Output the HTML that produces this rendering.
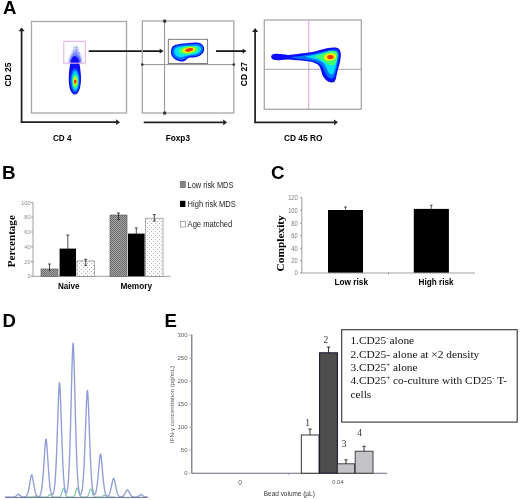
<!DOCTYPE html>
<html><head><meta charset="utf-8"><style>
html,body{margin:0;padding:0;background:#fff;width:520px;height:500px;overflow:hidden}
svg{display:block;will-change:transform}
text{font-family:"Liberation Sans",sans-serif}
.b{font-weight:bold}
.sf,.sf text,text.sf{font-family:"Liberation Serif",serif}
</style></head><body>
<svg width="520" height="500" viewBox="0 0 520 500">
<defs>
<marker id="ah" viewBox="0 0 8 10" refX="7" refY="5" markerWidth="2.8" markerHeight="3.6" orient="auto-start-reverse" preserveAspectRatio="none"><path d="M0,0 L8,5 L0,10 z" fill="#111"/></marker>
<linearGradient id="spk" x1="0" y1="0" x2="0" y2="1"><stop offset="0" stop-color="#e4e6ff"/><stop offset="0.35" stop-color="#a8b2ff"/><stop offset="0.7" stop-color="#5060ff"/><stop offset="1" stop-color="#1a22f0"/></linearGradient>
<filter id="bl2" x="-30%" y="-30%" width="160%" height="160%"><feGaussianBlur stdDeviation="0.9"/></filter>
<filter id="bl" x="-20%" y="-20%" width="140%" height="140%"><feGaussianBlur stdDeviation="0.55"/></filter>
<pattern id="hatch" width="2" height="2" patternUnits="userSpaceOnUse"><rect width="2" height="2" fill="#aaa"/><rect width="1" height="1" fill="#686868"/><rect x="1" y="1" width="1" height="1" fill="#686868"/></pattern>
<pattern id="dots" width="4" height="4" patternUnits="userSpaceOnUse"><rect width="4" height="4" fill="#fff"/><rect x="1" y="1" width="1" height="1" fill="#b4b4b4"/><rect x="3" y="3" width="1" height="1" fill="#b4b4b4"/></pattern>
</defs>

<!-- ============ Panel A ============ -->
<text x="3.1" y="14.2" class="b" font-size="18.6">A</text>
<!-- plot 1 -->
<rect x="31.5" y="21.5" width="95" height="91.5" fill="none" stroke="#a8a8a8" stroke-width="1.3"/>
<line x1="21.6" y1="123.0" x2="21.6" y2="31.0" stroke="#222" stroke-width="1.75"/><path d="M21.6,27.4 L18.60,31.30 L24.60,31.30 Z" fill="#222"/>
<line x1="20.75" y1="122.2" x2="116.4" y2="122.2" stroke="#222" stroke-width="1.75"/><path d="M120.0,122.2 L116.10,119.30 L116.10,125.10 Z" fill="#222"/>
<text transform="translate(11,74.5) rotate(-90)" text-anchor="middle" class="b" font-size="8.5">CD 25</text>
<text x="53" y="141" class="b" font-size="8.5" textLength="18.5" lengthAdjust="spacingAndGlyphs">CD 4</text>
<g filter="url(#bl2)"><path d="M76,45.5 C77.5,46 78.5,50 79.5,54 C80.5,57 81.5,60 81,63 L69.5,63 C69.2,60 70.5,57 71.8,54 C73,50 74.5,46 76,45.5 Z" fill="url(#spk)"/></g>
<g opacity="0.6"><circle cx="78.1" cy="58.3" r="0.55" fill="#3a4cff"/><circle cx="77.6" cy="49.6" r="0.55" fill="#3a4cff"/><circle cx="78.7" cy="57.7" r="0.55" fill="#3a4cff"/><circle cx="77.1" cy="61.3" r="0.55" fill="#2030e8"/><circle cx="78.6" cy="61.5" r="0.55" fill="#9aa6ff"/><circle cx="77.5" cy="60.9" r="0.55" fill="#5a6cff"/><circle cx="75.2" cy="53.2" r="0.55" fill="#9aa6ff"/><circle cx="75.3" cy="57.2" r="0.55" fill="#5a6cff"/><circle cx="77.4" cy="61.7" r="0.55" fill="#5a6cff"/><circle cx="74.4" cy="54.8" r="0.55" fill="#9aa6ff"/><circle cx="76.5" cy="58.5" r="0.55" fill="#9aa6ff"/><circle cx="74.6" cy="54.3" r="0.55" fill="#5a6cff"/><circle cx="74.9" cy="57.6" r="0.55" fill="#3a4cff"/><circle cx="75.6" cy="53.4" r="0.55" fill="#2030e8"/><circle cx="74.3" cy="52.3" r="0.55" fill="#9aa6ff"/><circle cx="76.3" cy="47.6" r="0.55" fill="#7080ff"/><circle cx="77.0" cy="58.7" r="0.55" fill="#5a6cff"/><circle cx="71.2" cy="61.4" r="0.55" fill="#7080ff"/><circle cx="78.4" cy="55.1" r="0.55" fill="#7080ff"/><circle cx="73.5" cy="53.6" r="0.55" fill="#3a4cff"/><circle cx="71.3" cy="61.0" r="0.55" fill="#5a6cff"/><circle cx="76.8" cy="47.4" r="0.55" fill="#2030e8"/><circle cx="73.2" cy="61.8" r="0.55" fill="#9aa6ff"/><circle cx="73.5" cy="50.2" r="0.55" fill="#7080ff"/><circle cx="74.0" cy="58.1" r="0.55" fill="#2030e8"/><circle cx="78.8" cy="61.5" r="0.55" fill="#3a4cff"/><circle cx="74.1" cy="47.1" r="0.55" fill="#3a4cff"/><circle cx="76.2" cy="51.4" r="0.55" fill="#7080ff"/><circle cx="79.4" cy="52.9" r="0.55" fill="#7080ff"/><circle cx="75.7" cy="51.6" r="0.55" fill="#7080ff"/><circle cx="73.9" cy="61.9" r="0.55" fill="#3a4cff"/><circle cx="76.1" cy="55.6" r="0.55" fill="#5a6cff"/><circle cx="76.6" cy="50.6" r="0.55" fill="#2030e8"/><circle cx="76.5" cy="47.7" r="0.55" fill="#2030e8"/><circle cx="72.1" cy="61.4" r="0.55" fill="#5a6cff"/><circle cx="76.4" cy="49.7" r="0.55" fill="#9aa6ff"/><circle cx="73.5" cy="59.0" r="0.55" fill="#2030e8"/><circle cx="76.3" cy="46.9" r="0.55" fill="#5a6cff"/><circle cx="78.5" cy="61.4" r="0.55" fill="#3a4cff"/><circle cx="78.6" cy="55.8" r="0.55" fill="#9aa6ff"/><circle cx="75.5" cy="60.2" r="0.55" fill="#9aa6ff"/><circle cx="77.2" cy="57.6" r="0.55" fill="#9aa6ff"/><circle cx="79.6" cy="58.4" r="0.55" fill="#9aa6ff"/><circle cx="78.5" cy="52.8" r="0.55" fill="#3a4cff"/><circle cx="79.9" cy="56.2" r="0.55" fill="#9aa6ff"/></g>
<g filter="url(#bl)">

<path d="M74.8,56 C78.5,56 80.2,65 80.9,75 C81.6,86 79,94.5 75,94.5 C71,94.5 68.4,88 68.8,77 C69.2,66 71,56 74.8,56 Z" fill="#1010f0"/>
<ellipse cx="75" cy="80.5" rx="4.8" ry="12.5" fill="#0a50ff"/>
<ellipse cx="75.2" cy="80.8" rx="3.7" ry="10.2" fill="#00c8ff"/>
<ellipse cx="75.3" cy="81.2" rx="2.7" ry="6.8" fill="#50ff60"/>
<ellipse cx="75.3" cy="81.5" rx="1.9" ry="4" fill="#f0f000"/>
<ellipse cx="75.3" cy="81.6" rx="1.2" ry="2.2" fill="#f03000"/>
</g>

<rect x="63.8" y="41.3" width="21.5" height="21.9" fill="none" stroke="#e4b4e4" stroke-width="1.1"/>
<line x1="88.7" y1="51.1" x2="160.0" y2="51.1" stroke="#1a1a1a" stroke-width="1.8"/><path d="M163.5,51.1 L159.70,48.70 L159.70,53.50 Z" fill="#1a1a1a"/>

<!-- plot 2 -->
<rect x="142.3" y="21" width="91.5" height="92" fill="none" stroke="#a8a8a8" stroke-width="1.3"/>
<line x1="164.6" y1="21" x2="164.6" y2="113" stroke="#909090" stroke-width="1"/>
<line x1="142.3" y1="64.6" x2="233.8" y2="64.6" stroke="#909090" stroke-width="1"/>
<rect x="163.2" y="19.6" width="3" height="3" fill="#333"/>
<rect x="163.2" y="111.6" width="3" height="3" fill="#333"/>
<circle cx="142.3" cy="64.6" r="1.3" fill="#333"/>
<circle cx="233.8" cy="64.6" r="1.3" fill="#333"/>
<line x1="143.7" y1="122.4" x2="223.5" y2="122.4" stroke="#222" stroke-width="1.75"/><path d="M227.1,122.4 L223.20,119.50 L223.20,125.30 Z" fill="#222"/>
<text x="165.7" y="141.2" class="b" font-size="8.5" textLength="24.3" lengthAdjust="spacingAndGlyphs">Foxp3</text>
<g filter="url(#bl)">
<path d="M171,50.7 C171.5,47 173,45.5 176,44.8 C180,43.8 186,43.2 195.3,42.5 C199,42.3 201.5,43.5 203,45.5 C204.8,48 204.6,51 202.5,53.5 C200,56 196,57.8 192,57.6 C189.5,57.4 188,57.8 186.5,59.5 C185,61.2 183,61.8 181,61.5 C177,60.8 174,59 172.3,56.5 C171.2,54.8 170.8,52.7 171,50.7 Z" fill="#0808f8"/>
<path transform="translate(188,51) scale(1.07,1.1) translate(-188,-51)" d="M173.2,51 C173.5,48 175.5,46.6 178,46 C182,45.2 187,44.8 195,44.4 C198.5,44.3 200.5,45.3 201.6,47 C202.6,49 202,51.5 200,53.2 C198,55 195,56 191.5,55.8 C189,55.7 187.5,56.2 186,57.6 C184.5,58.8 182.5,59.4 180.8,59.1 C177.5,58.4 175,57 174,55 C173.3,53.8 173.1,52.4 173.2,51 Z" fill="#0070ff"/>
<path transform="translate(188,51) scale(1.06,1.08) translate(-188,-51)" d="M175,51 C175.5,48.5 177,47.5 180,47 C184,46.3 189,46 195,45.8 C198,45.8 199.8,46.8 200.2,48.5 C200.5,50.5 199.2,52.5 196.5,53.6 C193.5,54.8 189,54.5 186,55.6 C183.5,56.6 181,57 179,56.4 C176.5,55.6 175,53.8 175,51 Z" fill="#00e0f8"/>
<ellipse cx="188.5" cy="50.2" rx="10" ry="4.2" fill="#40ff70" transform="rotate(-6 188.5 50.2)"/>
<ellipse cx="188.8" cy="50" rx="6.8" ry="2.9" fill="#f0f000" transform="rotate(-8 188.8 50)"/>
<ellipse cx="189.2" cy="49.8" rx="4" ry="1.7" fill="#f03000" transform="rotate(-10 189.2 49.8)"/>
</g>
<rect x="168.3" y="39.3" width="39.3" height="24.2" fill="none" stroke="#707070" stroke-width="0.9"/>
<line x1="216" y1="51.1" x2="243.0" y2="51.1" stroke="#1a1a1a" stroke-width="1.8"/><path d="M246.5,51.1 L242.70,48.70 L242.70,53.50 Z" fill="#1a1a1a"/>

<!-- plot 3 -->
<rect x="264.3" y="20" width="97" height="89.3" fill="none" stroke="#a8a8a8" stroke-width="1.3"/>
<line x1="308.8" y1="20" x2="308.8" y2="109.3" stroke="#d8a0d8" stroke-width="1"/>
<line x1="264.3" y1="69.3" x2="361.3" y2="69.3" stroke="#b0a0b0" stroke-width="1"/>
<line x1="255.1" y1="123.1" x2="255.1" y2="31.6" stroke="#222" stroke-width="1.75"/><path d="M255.1,28.0 L252.10,31.90 L258.10,31.90 Z" fill="#222"/>
<line x1="254.25" y1="122.3" x2="334.4" y2="122.3" stroke="#222" stroke-width="1.75"/><path d="M338.0,122.3 L334.10,119.40 L334.10,125.20 Z" fill="#222"/>
<text transform="translate(246.6,74.1) rotate(-90)" text-anchor="middle" class="b" font-size="8.5">CD 27</text>
<text x="284" y="141" class="b" font-size="8.5" textLength="38.5" lengthAdjust="spacingAndGlyphs">CD 45 RO</text>
<g filter="url(#bl)">
<path d="M271.2,57 C271,54.5 274,53.6 277,53.8 C281,54 284,54.6 288,55 C295,54.2 303,53 311,52.2 C318,51 323,49.2 327,48.3 C331,47.6 335,47.3 337.5,48 C340,49 341,52 340.8,56 C340.5,62 338.5,67 337.5,71 C336.7,75 336,79.5 334.5,81.8 C333,83 330.5,82.8 328,81.5 C324.5,79.5 322.5,76 321.5,72 C320.5,68.5 320,66 317,64 C314,62.3 311,61.6 306,61 C300,60.4 295,60.4 290,59.6 C287,59.2 284,60 279,60.2 C274,60.4 271.4,59.4 271.2,57 Z" fill="#0808f8"/>
<path d="M290,57.3 C298,56.3 306,55 313,54 C319,52.8 324,51 329,50 C333,49.4 336.5,49.3 338,50.5 C339.3,52 339,56 338.3,60 C337.5,65 336.5,69 335.5,73 C334.7,76.5 333.5,78.8 331.5,78.8 C329,78.6 326.5,76 325,72.5 C323.5,68.5 322,65 318,62.8 C314,61 308,59.8 300,59 C296,58.6 292,58.2 290,57.3 Z" fill="#0070ff"/>
<path d="M305,56.5 C312,55.5 318,54.2 324,52.5 C329,51.3 333.5,50.8 336,51.8 C337.6,52.8 337.6,56 337,60 C336.3,64.5 335.3,68.5 334,72 C333,74.5 331.3,75.2 329.8,74 C328,72.4 327,69 325.5,66 C323.8,62.8 321,61 317,59.6 C313,58.6 309,57.6 305,56.5 Z" fill="#00e0f8"/>
<path d="M314,56.2 C319,55.2 324,52.6 329.5,51.2 C333.5,50.5 336.6,51 337.5,53.2 C338.3,56 337.2,60.5 335.2,63.5 C333.2,66 330,65.8 327.2,63.8 C323.5,61.2 319.5,58.6 314,56.2 Z" fill="#40ff70"/>
<ellipse cx="330" cy="56.9" rx="6.2" ry="3.8" fill="#f0f000" transform="rotate(-8 330 56.9)"/>
<ellipse cx="330.4" cy="56.9" rx="3.2" ry="2" fill="#f03000"/>
</g>

<!-- ============ Panel B ============ -->
<text x="2.0" y="178.6" class="b" font-size="18.8">B</text>
<g stroke="#888" stroke-width="0.8">
<line x1="33" y1="202.6" x2="33" y2="276.3"/>
<line x1="33" y1="276.3" x2="170.6" y2="276.3"/>
<line x1="31" y1="202.6" x2="33" y2="202.6"/><line x1="31" y1="217.3" x2="33" y2="217.3"/><line x1="31" y1="232" x2="33" y2="232"/><line x1="31" y1="246.8" x2="33" y2="246.8"/><line x1="31" y1="261.5" x2="33" y2="261.5"/><line x1="31" y1="276.3" x2="33" y2="276.3"/>
</g>
<g font-size="5.6" fill="#8c8c8c" text-anchor="end">
<text x="30.6" y="204.6">100</text><text x="30.6" y="219.3">80</text><text x="30.6" y="234">60</text><text x="30.6" y="248.8">40</text><text x="30.6" y="263.5">20</text><text x="30.6" y="278.3">0</text>
</g>
<text transform="translate(14.6,241.2) rotate(-90)" text-anchor="middle" class="sf b" font-size="10.3" textLength="52" lengthAdjust="spacingAndGlyphs">Percentage</text>
<!-- bars -->
<rect x="41" y="269" width="17" height="7.3" fill="url(#hatch)" stroke="#555" stroke-width="0.6"/>
<rect x="59.6" y="248.6" width="16.4" height="27.7" fill="#000"/>
<rect x="77" y="261" width="17.4" height="15.3" fill="url(#dots)" stroke="#777" stroke-width="0.6"/>
<rect x="110" y="215" width="17" height="61.3" fill="url(#hatch)" stroke="#555" stroke-width="0.6"/>
<rect x="128" y="233.6" width="16.6" height="42.7" fill="#000"/>
<rect x="145.6" y="218.2" width="17.4" height="58.1" fill="url(#dots)" stroke="#777" stroke-width="0.6"/>
<g stroke="#222" stroke-width="0.8">
<line x1="49.5" y1="264" x2="49.5" y2="271.5"/><line x1="48" y1="264" x2="51" y2="264"/>
<line x1="67.8" y1="235" x2="67.8" y2="249"/><line x1="66.3" y1="235" x2="69.3" y2="235"/>
<line x1="85.7" y1="259.4" x2="85.7" y2="265.4"/><line x1="84.2" y1="259.4" x2="87.2" y2="259.4"/><line x1="84.2" y1="265.4" x2="87.2" y2="265.4"/>
<line x1="118.5" y1="213" x2="118.5" y2="219.6"/><line x1="117" y1="213" x2="120" y2="213"/><line x1="117" y1="219.6" x2="120" y2="219.6"/>
<line x1="136.3" y1="228" x2="136.3" y2="234"/><line x1="134.8" y1="228" x2="137.8" y2="228"/>
<line x1="154.3" y1="214.6" x2="154.3" y2="221"/><line x1="152.8" y1="214.6" x2="155.8" y2="214.6"/><line x1="152.8" y1="221" x2="155.8" y2="221"/>
</g>
<text x="58" y="289" class="b" font-size="9" textLength="21.6" lengthAdjust="spacingAndGlyphs">Naive</text>
<text x="120.4" y="289" class="b" font-size="9" textLength="31.6" lengthAdjust="spacingAndGlyphs">Memory</text>
<!-- legend -->
<rect x="180.2" y="181.3" width="5.2" height="6.3" fill="#858585" stroke="#666" stroke-width="0.6"/>
<rect x="180" y="200.8" width="5.4" height="6.2" fill="#000"/>
<rect x="180.3" y="221.5" width="5" height="5.5" fill="#fff" stroke="#777" stroke-width="0.6"/>
<g font-size="9.6" fill="#222">
<text x="187.6" y="187.8" textLength="45.8" lengthAdjust="spacingAndGlyphs">Low risk MDS</text>
<text x="187.6" y="207.3" textLength="48.2" lengthAdjust="spacingAndGlyphs">High risk MDS</text>
<text x="187.6" y="227.2" textLength="44.7" lengthAdjust="spacingAndGlyphs">Age matched</text>
</g>

<!-- ============ Panel C ============ -->
<text x="271.0" y="178.6" class="b" font-size="18.8">C</text>
<g stroke="#888" stroke-width="0.8">
<line x1="301.8" y1="197.8" x2="301.8" y2="273"/>
<line x1="301.8" y1="273" x2="475" y2="273"/>
<line x1="300.2" y1="197.8" x2="302" y2="197.8"/><line x1="300.2" y1="210.1" x2="302" y2="210.1"/><line x1="300.2" y1="223.3" x2="302" y2="223.3"/><line x1="300.2" y1="235.7" x2="302" y2="235.7"/><line x1="300.2" y1="248.3" x2="302" y2="248.3"/><line x1="300.2" y1="260.7" x2="302" y2="260.7"/><line x1="300.2" y1="273.0" x2="302" y2="273.0"/>
<line x1="388.5" y1="272.6" x2="388.5" y2="274.6"/>
</g>
<g font-size="6.9" fill="#7a7a7a" text-anchor="end" transform="translate(297.8,0) scale(0.84,1)">
<text x="0" y="200.3">120</text><text x="0" y="212.6">100</text><text x="0" y="225.8">80</text><text x="0" y="238.2">60</text><text x="0" y="250.8">40</text><text x="0" y="263.2">20</text><text x="0" y="275.5">0</text>
</g>
<text transform="translate(283.6,243.3) rotate(-90)" text-anchor="middle" class="sf b" font-size="11.1" textLength="56.2" lengthAdjust="spacingAndGlyphs">Complexity</text>
<rect x="328" y="210" width="35" height="62.6" fill="#000"/>
<rect x="413.8" y="208.9" width="35.1" height="63.7" fill="#000"/>
<g stroke="#333" stroke-width="0.8">
<line x1="345.5" y1="207" x2="345.5" y2="210"/><line x1="344" y1="207" x2="347" y2="207"/>
<line x1="431.3" y1="205.2" x2="431.3" y2="209"/><line x1="430" y1="205.2" x2="432.6" y2="205.2"/>
</g>
<text x="334.4" y="285" class="b" font-size="9" textLength="33.6" lengthAdjust="spacingAndGlyphs">Low risk</text>
<text x="418.5" y="285" class="b" font-size="9" textLength="35" lengthAdjust="spacingAndGlyphs">High risk</text>

<!-- ============ Panel D ============ -->
<text x="2.4" y="326.9" class="b" font-size="18.6">D</text>
<path d="M25.00,497.20 L25.30,497.20 L25.60,497.20 L25.90,497.20 L26.20,497.20 L26.50,497.20 L26.80,497.20 L27.10,497.20 L27.40,497.20 L27.70,497.20 L28.00,497.20 L28.30,497.20 L28.60,497.20 L28.90,497.20 L29.20,497.20 L29.50,497.20 L29.80,497.20 L30.10,497.20 L30.40,497.20 L30.70,497.20 L31.00,497.20 L31.30,497.20 L31.60,497.20 L31.90,497.19 L32.20,497.18 L32.50,497.17 L32.80,497.14 L33.10,497.10 L33.40,497.04 L33.70,496.95 L34.00,496.83 L34.30,496.69 L34.60,496.53 L34.90,496.36 L35.20,496.21 L35.50,496.09 L35.80,496.01 L36.10,496.00 L36.40,496.06 L36.70,496.16 L37.00,496.31 L37.30,496.47 L37.60,496.64 L37.90,496.79 L38.20,496.91 L38.50,497.01 L38.80,497.08 L39.10,497.13 L39.40,497.16 L39.70,497.18 L40.00,497.19 L40.30,497.19 L40.60,497.20 L40.90,497.20 L41.20,497.20 L41.50,497.20 L41.80,497.20 L42.10,497.20 L42.40,497.20 L42.70,497.20 L43.00,497.20 L43.30,497.20 L43.60,497.20 L43.90,497.20 L44.20,497.20 L44.50,497.20 L44.80,497.20 L45.10,497.19 L45.40,497.19 L45.70,497.18 L46.00,497.15 L46.30,497.12 L46.60,497.06 L46.90,496.97 L47.20,496.83 L47.50,496.65 L47.80,496.41 L48.10,496.12 L48.40,495.79 L48.70,495.45 L49.00,495.11 L49.30,494.82 L49.60,494.61 L49.90,494.51 L50.20,494.53 L50.50,494.67 L50.80,494.91 L51.10,495.22 L51.40,495.56 L51.70,495.91 L52.00,496.23 L52.30,496.50 L52.60,496.72 L52.90,496.88 L53.20,497.00 L53.50,497.08 L53.80,497.13 L54.10,497.16 L54.40,497.18 L54.70,497.19 L55.00,497.20 L55.30,497.20 L55.60,497.20 L55.90,497.20 L56.20,497.20 L56.50,497.20 L56.80,497.20 L57.10,497.20 L57.40,497.20 L57.70,497.20 L58.00,497.19 L58.30,497.18 L58.60,497.17 L58.90,497.14 L59.20,497.08 L59.50,496.99 L59.80,496.85 L60.10,496.63 L60.40,496.31 L60.70,495.86 L61.00,495.26 L61.30,494.51 L61.60,493.62 L61.90,492.62 L62.20,491.57 L62.50,490.55 L62.80,489.65 L63.10,488.97 L63.40,488.58 L63.70,488.52 L64.00,488.80 L64.30,489.40 L64.60,490.23 L64.90,491.22 L65.20,492.27 L65.50,493.30 L65.80,494.23 L66.10,495.03 L66.40,495.68 L66.70,496.17 L67.00,496.53 L67.30,496.78 L67.60,496.95 L67.90,497.06 L68.20,497.12 L68.50,497.16 L68.80,497.18 L69.10,497.19 L69.40,497.20 L69.70,497.20 L70.00,497.20 L70.30,497.20 L70.60,497.20 L70.90,497.20 L71.20,497.20 L71.50,497.19 L71.80,497.19 L72.10,497.17 L72.40,497.15 L72.70,497.10 L73.00,497.02 L73.30,496.89 L73.60,496.68 L73.90,496.38 L74.20,495.95 L74.50,495.38 L74.80,494.64 L75.10,493.75 L75.40,492.72 L75.70,491.62 L76.00,490.52 L76.30,489.52 L76.60,488.71 L76.90,488.18 L77.20,488.00 L77.50,488.18 L77.80,488.71 L78.10,489.52 L78.40,490.52 L78.70,491.62 L79.00,492.72 L79.30,493.75 L79.60,494.64 L79.90,495.38 L80.20,495.95 L80.50,496.38 L80.80,496.68 L81.10,496.89 L81.40,497.02 L81.70,497.10 L82.00,497.15 L82.30,497.17 L82.60,497.19 L82.90,497.19 L83.20,497.20 L83.50,497.20 L83.80,497.20 L84.10,497.20 L84.40,497.20 L84.70,497.20 L85.00,497.20 L85.30,497.19 L85.60,497.18 L85.90,497.16 L86.20,497.13 L86.50,497.07 L86.80,496.97 L87.10,496.81 L87.40,496.57 L87.70,496.23 L88.00,495.76 L88.30,495.16 L88.60,494.40 L88.90,493.52 L89.20,492.56 L89.50,491.57 L89.80,490.63 L90.10,489.85 L90.40,489.29 L90.70,489.02 L91.00,489.07 L91.30,489.44 L91.60,490.09 L91.90,490.93 L92.20,491.90 L92.50,492.89 L92.80,493.83 L93.10,494.67 L93.40,495.37 L93.70,495.93 L94.00,496.36 L94.30,496.66 L94.60,496.87 L94.90,497.00 L95.20,497.09 L95.50,497.14 L95.80,497.17 L96.10,497.18 L96.40,497.19 L96.70,497.20 L97.00,497.20 L97.30,497.20 L97.60,497.20 L97.90,497.20 L98.20,497.20 L98.50,497.20 L98.80,497.20 L99.10,497.20 L99.40,497.20 L99.70,497.19 L100.00,497.19 L100.30,497.18 L100.60,497.15 L100.90,497.12 L101.20,497.06 L101.50,496.98 L101.80,496.86 L102.10,496.69 L102.40,496.49 L102.70,496.24 L103.00,495.96 L103.30,495.68 L103.60,495.41 L103.90,495.19 L104.20,495.05 L104.50,495.00 L104.80,495.05 L105.10,495.19 L105.40,495.41 L105.70,495.68 L106.00,495.96 L106.30,496.24 L106.60,496.49 L106.90,496.69 L107.20,496.86 L107.50,496.98 L107.80,497.06 L108.10,497.12 L108.40,497.15 L108.70,497.18 L109.00,497.19 L109.30,497.19 L109.60,497.20 L109.90,497.20 L110.20,497.20 L110.50,497.20 L110.80,497.20 L111.10,497.20 L111.40,497.20 L111.70,497.20 L112.00,497.20 L112.30,497.20 L112.60,497.20 L112.90,497.20 L113.20,497.20 L113.50,497.20 L113.80,497.20 L114.10,497.20 L114.40,497.20 L114.70,497.20 L115.00,497.20" fill="none" stroke="#80c4a8" stroke-width="1.2"/>
<path d="M5.00,497.20 L5.25,497.20 L5.50,497.20 L5.75,497.20 L6.00,497.20 L6.25,497.20 L6.50,497.20 L6.75,497.20 L7.00,497.20 L7.25,497.20 L7.50,497.20 L7.75,497.20 L8.00,497.20 L8.25,497.20 L8.50,497.20 L8.75,497.20 L9.00,497.20 L9.25,497.20 L9.50,497.20 L9.75,497.20 L10.00,497.20 L10.25,497.20 L10.50,497.20 L10.75,497.20 L11.00,497.19 L11.25,497.19 L11.50,497.19 L11.75,497.18 L12.00,497.18 L12.25,497.17 L12.50,497.16 L12.75,497.14 L13.00,497.12 L13.25,497.10 L13.50,497.06 L13.75,497.02 L14.00,496.97 L14.25,496.91 L14.50,496.83 L14.75,496.74 L15.00,496.63 L15.25,496.51 L15.50,496.37 L15.75,496.20 L16.00,496.03 L16.25,495.83 L16.50,495.63 L16.75,495.42 L17.00,495.20 L17.25,495.00 L17.50,494.80 L17.75,494.64 L18.00,494.50 L18.25,494.42 L18.50,494.41 L18.75,494.48 L19.00,494.61 L19.25,494.77 L19.50,494.96 L19.75,495.16 L20.00,495.37 L20.25,495.59 L20.50,495.79 L20.75,495.99 L21.00,496.17 L21.25,496.33 L21.50,496.48 L21.75,496.61 L22.00,496.72 L22.25,496.81 L22.50,496.88 L22.75,496.94 L23.00,496.99 L23.25,497.02 L23.50,497.04 L23.75,497.05 L24.00,497.05 L24.25,497.03 L24.50,497.00 L24.75,496.96 L25.00,496.89 L25.25,496.80 L25.50,496.68 L25.75,496.53 L26.00,496.34 L26.25,496.11 L26.50,495.81 L26.75,495.46 L27.00,495.03 L27.25,494.51 L27.50,493.90 L27.75,493.20 L28.00,492.38 L28.25,491.45 L28.50,490.40 L28.75,489.24 L29.00,487.97 L29.25,486.61 L29.50,485.16 L29.75,483.66 L30.00,482.14 L30.25,480.64 L30.50,479.19 L30.75,477.85 L31.00,476.68 L31.25,475.74 L31.50,475.11 L31.75,474.92 L32.00,475.32 L32.25,476.08 L32.50,477.12 L32.75,478.37 L33.00,479.76 L33.25,481.23 L33.50,482.75 L33.75,484.27 L34.00,485.75 L34.25,487.16 L34.50,488.49 L34.75,489.72 L35.00,490.83 L35.25,491.83 L35.50,492.71 L35.75,493.48 L36.00,494.15 L36.25,494.71 L36.50,495.18 L36.75,495.57 L37.00,495.89 L37.25,496.14 L37.50,496.33 L37.75,496.47 L38.00,496.55 L38.25,496.59 L38.50,496.59 L38.75,496.54 L39.00,496.43 L39.25,496.27 L39.50,496.04 L39.75,495.73 L40.00,495.33 L40.25,494.83 L40.50,494.20 L40.75,493.43 L41.00,492.49 L41.25,491.36 L41.50,490.01 L41.75,488.43 L42.00,486.59 L42.25,484.47 L42.50,482.07 L42.75,479.37 L43.00,476.38 L43.25,473.12 L43.50,469.62 L43.75,465.92 L44.00,462.07 L44.25,458.16 L44.50,454.28 L44.75,450.53 L45.00,447.05 L45.25,443.97 L45.50,441.45 L45.75,439.67 L46.00,438.90 L46.25,439.67 L46.50,441.45 L46.75,443.97 L47.00,447.05 L47.25,450.53 L47.50,454.27 L47.75,458.16 L48.00,462.07 L48.25,465.91 L48.50,469.61 L48.75,473.11 L49.00,476.37 L49.25,479.35 L49.50,482.04 L49.75,484.43 L50.00,486.53 L50.25,488.34 L50.50,489.89 L50.75,491.19 L51.00,492.26 L51.25,493.12 L51.50,493.78 L51.75,494.27 L52.00,494.58 L52.25,494.73 L52.50,494.72 L52.75,494.54 L53.00,494.19 L53.25,493.64 L53.50,492.89 L53.75,491.90 L54.00,490.64 L54.25,489.07 L54.50,487.17 L54.75,484.88 L55.00,482.16 L55.25,478.97 L55.50,475.28 L55.75,471.06 L56.00,466.28 L56.25,460.95 L56.50,455.07 L56.75,448.68 L57.00,441.84 L57.25,434.64 L57.50,427.18 L57.75,419.63 L58.00,412.15 L58.25,404.95 L58.50,398.28 L58.75,392.39 L59.00,387.57 L59.25,384.17 L59.50,382.70 L59.75,384.17 L60.00,387.57 L60.25,392.39 L60.50,398.28 L60.75,404.95 L61.00,412.15 L61.25,419.63 L61.50,427.18 L61.75,434.63 L62.00,441.84 L62.25,448.68 L62.50,455.06 L62.75,460.93 L63.00,466.26 L63.25,471.02 L63.50,475.23 L63.75,478.90 L64.00,482.06 L64.25,484.75 L64.50,486.99 L64.75,488.83 L65.00,490.30 L65.25,491.45 L65.50,492.28 L65.75,492.84 L66.00,493.12 L66.25,493.14 L66.50,492.90 L66.75,492.38 L67.00,491.57 L67.25,490.43 L67.50,488.93 L67.75,487.03 L68.00,484.69 L68.25,481.83 L68.50,478.42 L68.75,474.40 L69.00,469.71 L69.25,464.32 L69.50,458.19 L69.75,451.31 L70.00,443.68 L70.25,435.34 L70.50,426.35 L70.75,416.82 L71.00,406.89 L71.25,396.74 L71.50,386.58 L71.75,376.70 L72.00,367.38 L72.25,358.98 L72.50,351.86 L72.75,346.45 L73.00,343.30 L73.25,343.71 L73.50,347.37 L73.75,353.16 L74.00,360.57 L74.25,369.18 L74.50,378.64 L74.75,388.60 L75.00,398.78 L75.25,408.90 L75.50,418.77 L75.75,428.20 L76.00,437.07 L76.25,445.27 L76.50,452.76 L76.75,459.50 L77.00,465.49 L77.25,470.75 L77.50,475.32 L77.75,479.24 L78.00,482.56 L78.25,485.35 L78.50,487.66 L78.75,489.55 L79.00,491.06 L79.25,492.26 L79.50,493.17 L79.75,493.83 L80.00,494.26 L80.25,494.50 L80.50,494.54 L80.75,494.39 L81.00,494.06 L81.25,493.52 L81.50,492.76 L81.75,491.76 L82.00,490.49 L82.25,488.91 L82.50,487.00 L82.75,484.71 L83.00,482.00 L83.25,478.84 L83.50,475.20 L83.75,471.05 L84.00,466.38 L84.25,461.19 L84.50,455.50 L84.75,449.35 L85.00,442.81 L85.25,435.97 L85.50,428.95 L85.75,421.89 L86.00,414.98 L86.25,408.43 L86.50,402.45 L86.75,397.31 L87.00,393.30 L87.25,390.76 L87.50,390.48 L87.75,392.66 L88.00,396.41 L88.25,401.35 L88.50,407.18 L88.75,413.64 L89.00,420.49 L89.25,427.53 L89.50,434.58 L89.75,441.46 L90.00,448.07 L90.25,454.30 L90.50,460.09 L90.75,465.38 L91.00,470.15 L91.25,474.40 L91.50,478.14 L91.75,481.40 L92.00,484.19 L92.25,486.56 L92.50,488.54 L92.75,490.18 L93.00,491.51 L93.25,492.57 L93.50,493.38 L93.75,493.98 L94.00,494.39 L94.25,494.62 L94.50,494.68 L94.75,494.59 L95.00,494.34 L95.25,493.93 L95.50,493.36 L95.75,492.62 L96.00,491.70 L96.25,490.58 L96.50,489.26 L96.75,487.72 L97.00,485.96 L97.25,483.98 L97.50,481.79 L97.75,479.38 L98.00,476.80 L98.25,474.06 L98.50,471.22 L98.75,468.33 L99.00,465.46 L99.25,462.70 L99.50,460.12 L99.75,457.85 L100.00,455.99 L100.25,454.67 L100.50,454.10 L100.75,454.67 L101.00,455.99 L101.25,457.85 L101.50,460.13 L101.75,462.70 L102.00,465.47 L102.25,468.34 L102.50,471.23 L102.75,474.07 L103.00,476.81 L103.25,479.40 L103.50,481.81 L103.75,484.01 L104.00,486.00 L104.25,487.78 L104.50,489.34 L104.75,490.69 L105.00,491.85 L105.25,492.84 L105.50,493.66 L105.75,494.34 L106.00,494.88 L106.25,495.31 L106.50,495.64 L106.75,495.88 L107.00,496.04 L107.25,496.13 L107.50,496.14 L107.75,496.09 L108.00,495.98 L108.25,495.80 L108.50,495.55 L108.75,495.23 L109.00,494.83 L109.25,494.35 L109.50,493.79 L109.75,493.13 L110.00,492.38 L110.25,491.54 L110.50,490.60 L110.75,489.58 L111.00,488.47 L111.25,487.30 L111.50,486.08 L111.75,484.83 L112.00,483.58 L112.25,482.36 L112.50,481.21 L112.75,480.18 L113.00,479.30 L113.25,478.64 L113.50,478.25 L113.75,478.30 L114.00,478.75 L114.25,479.46 L114.50,480.38 L114.75,481.44 L115.00,482.60 L115.25,483.83 L115.50,485.08 L115.75,486.33 L116.00,487.54 L116.25,488.70 L116.50,489.80 L116.75,490.81 L117.00,491.73 L117.25,492.56 L117.50,493.29 L117.75,493.94 L118.00,494.50 L118.25,494.99 L118.50,495.40 L118.75,495.74 L119.00,496.02 L119.25,496.26 L119.50,496.44 L119.75,496.59 L120.00,496.70 L120.25,496.78 L120.50,496.84 L120.75,496.87 L121.00,496.88 L121.25,496.87 L121.50,496.84 L121.75,496.78 L122.00,496.70 L122.25,496.60 L122.50,496.48 L122.75,496.32 L123.00,496.14 L123.25,495.92 L123.50,495.67 L123.75,495.39 L124.00,495.07 L124.25,494.71 L124.50,494.31 L124.75,493.89 L125.00,493.44 L125.25,492.97 L125.50,492.48 L125.75,491.99 L126.00,491.51 L126.25,491.06 L126.50,490.65 L126.75,490.29 L127.00,490.01 L127.25,489.84 L127.50,489.82 L127.75,489.97 L128.00,490.23 L128.25,490.57 L128.50,490.97 L128.75,491.42 L129.00,491.90 L129.25,492.38 L129.50,492.87 L129.75,493.35 L130.00,493.80 L130.25,494.23 L130.50,494.63 L130.75,495.00 L131.00,495.33 L131.25,495.63 L131.50,495.88 L131.75,496.11 L132.00,496.31 L132.25,496.47 L132.50,496.61 L132.75,496.73 L133.00,496.82 L133.25,496.90 L133.50,496.96 L133.75,497.01 L134.00,497.05 L134.25,497.08 L134.50,497.10 L134.75,497.12 L135.00,497.12 L135.25,497.12 L135.50,497.12 L135.75,497.11 L136.00,497.09 L136.25,497.06 L136.50,497.02 L136.75,496.97 L137.00,496.91 L137.25,496.84 L137.50,496.75 L137.75,496.65 L138.00,496.53 L138.25,496.40 L138.50,496.24 L138.75,496.07 L139.00,495.89 L139.25,495.70 L139.50,495.50 L139.75,495.31 L140.00,495.12 L140.25,494.94 L140.50,494.79 L140.75,494.68 L141.00,494.61 L141.25,494.62 L141.50,494.70 L141.75,494.82 L142.00,494.98 L142.25,495.15 L142.50,495.35 L142.75,495.54 L143.00,495.74 L143.25,495.93 L143.50,496.11 L143.75,496.28 L144.00,496.43 L144.25,496.56 L144.50,496.67 L144.75,496.77 L145.00,496.86 L145.25,496.93 L145.50,496.99 L145.75,497.04 L146.00,497.07 L146.25,497.10 L146.50,497.13 L146.75,497.15 L147.00,497.16 L147.25,497.17 L147.50,497.18 L147.75,497.19" fill="none" stroke="#8f9dd8" stroke-width="1.35" stroke-linejoin="round"/>
<line x1="5" y1="497.4" x2="147.8" y2="497.4" stroke="#6a7090" stroke-width="1"/>

<!-- ============ Panel E ============ -->
<text x="164.6" y="326.9" class="b" font-size="18.6">E</text>
<g stroke="#6c6c7c" stroke-width="1.15">
<line x1="191.8" y1="334.6" x2="191.8" y2="473.2"/>
<line x1="191.8" y1="473.2" x2="387" y2="473.2"/>
</g>
<g stroke="#888" stroke-width="0.6">
<line x1="189" y1="335.2" x2="191" y2="335.2"/><line x1="189" y1="358.2" x2="191" y2="358.2"/><line x1="189" y1="381.2" x2="191" y2="381.2"/><line x1="189" y1="404.2" x2="191" y2="404.2"/><line x1="189" y1="427.2" x2="191" y2="427.2"/><line x1="189" y1="450.2" x2="191" y2="450.2"/><line x1="189" y1="473.2" x2="191" y2="473.2"/>
<line x1="288.6" y1="473.2" x2="288.6" y2="475.2"/>
</g>
<g font-size="6" fill="#5a5a5a" text-anchor="end">
<text x="187.5" y="337.4">300</text><text x="187.5" y="360.4">250</text><text x="187.5" y="383.4">200</text><text x="187.5" y="406.4">150</text><text x="187.5" y="429.4">100</text><text x="187.5" y="452.4">50</text><text x="187.5" y="475.4">0</text>
</g>
<text transform="translate(174,404.5) rotate(-90)" text-anchor="middle" font-size="5.7" fill="#555" textLength="77.3" lengthAdjust="spacingAndGlyphs">IFN-γ concentration (pg/mL)</text>
<text x="240.2" y="484.8" font-size="6.6" fill="#555" text-anchor="middle">0</text>
<text x="332.2" y="484.4" font-size="5.4" fill="#555" textLength="11.3" lengthAdjust="spacingAndGlyphs">0.04</text>
<text x="263.8" y="496" font-size="6.3" fill="#333" textLength="51" lengthAdjust="spacingAndGlyphs">Bead volume (µL)</text>
<!-- bars -->
<rect x="301.3" y="435" width="17.7" height="38.2" fill="#fff" stroke="#222" stroke-width="0.9"/>
<rect x="319.6" y="352.8" width="17.8" height="120.4" fill="#4d4d4d" stroke="#1a1a38" stroke-width="1.1"/>
<rect x="337.4" y="463.8" width="17.2" height="9.4" fill="#c4c4c8" stroke="#333" stroke-width="0.9"/>
<rect x="355.2" y="451.2" width="17.8" height="22" fill="#c4c4c8" stroke="#333" stroke-width="0.9"/>
<g stroke="#222" stroke-width="0.9">
<line x1="310" y1="429" x2="310" y2="435"/><line x1="308.3" y1="429" x2="311.7" y2="429"/>
<line x1="328.5" y1="347" x2="328.5" y2="353"/><line x1="326.8" y1="347" x2="330.2" y2="347"/>
<line x1="346" y1="459.8" x2="346" y2="464"/><line x1="344.3" y1="459.8" x2="347.7" y2="459.8"/>
<line x1="364.1" y1="446.3" x2="364.1" y2="451.2"/><line x1="362.4" y1="446.3" x2="365.8" y2="446.3"/>
</g>
<g class="sf" font-size="9.5" fill="#333">
<text x="305.2" y="425.6">1</text>
<text x="323.4" y="343.3">2</text>
<text x="341.8" y="447.1">3</text>
<text x="357.2" y="435.5">4</text>
</g>
<!-- legend -->
<rect x="341.7" y="329.7" width="175.5" height="92.4" fill="#fff" stroke="#333" stroke-width="1.1"/>
<g class="sf" font-size="11.4" fill="#111">
<text x="350.4" y="344.4">1.CD25<tspan font-size="7" dy="-4.5">-</tspan><tspan dy="4.5" dx="1">alone</tspan></text>
<text x="350.4" y="357.6">2.CD25- alone at ×2 density</text>
<text x="350.4" y="371">3.CD25<tspan font-size="7" dy="-4.5">+</tspan><tspan dy="4.5"> alone</tspan></text>
<text x="350.4" y="384.4">4.CD25<tspan font-size="7" dy="-4.5">+</tspan><tspan dy="4.5"> co-culture with CD25</tspan><tspan font-size="7" dy="-4.5">-</tspan><tspan dy="4.5"> T-</tspan></text>
<text x="350.4" y="397.6">cells</text>
</g>
</svg>
</body></html>
